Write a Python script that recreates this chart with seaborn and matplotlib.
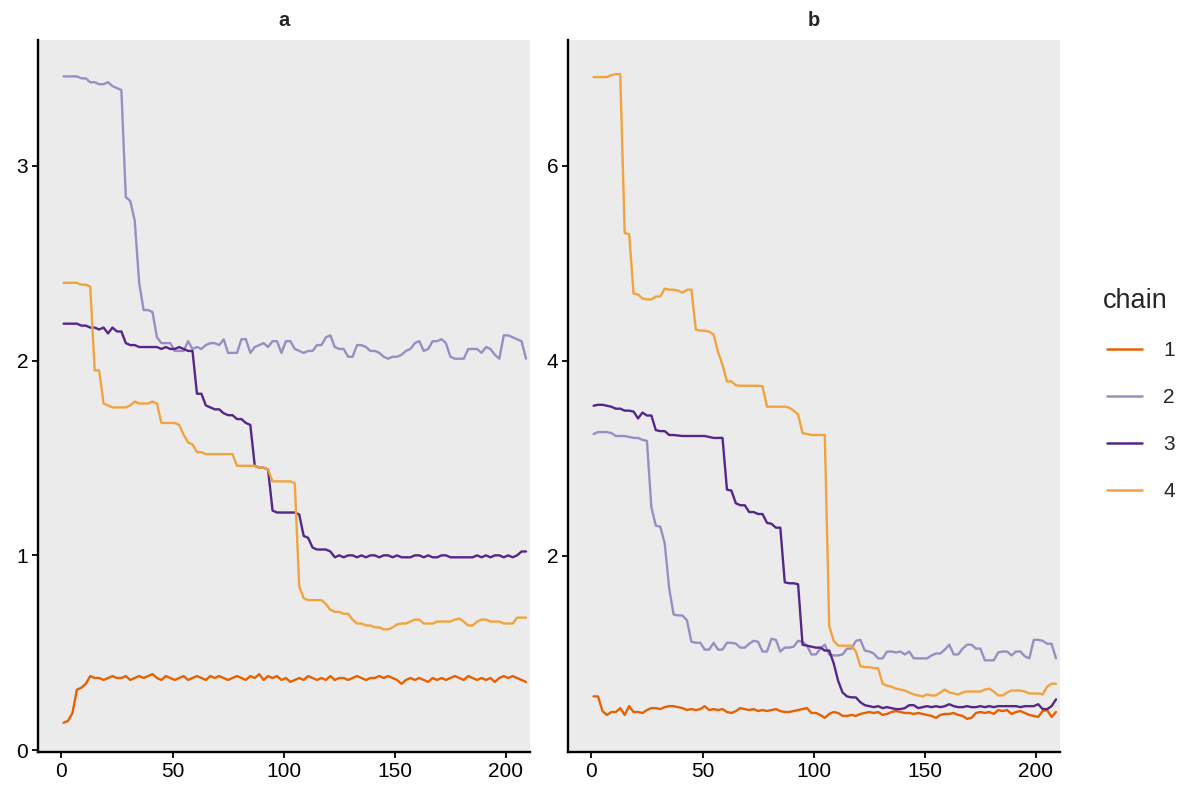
import numpy as np
import pandas as pd
import matplotlib
matplotlib.use("Agg")
import matplotlib.pyplot as plt
import seaborn as sns

# iterations (every second draw)
iterations = list(range(1, 210, 2))
chains = ["1", "2", "3", "4"]
params = ["a", "b"]
chain_colors = ["#e66101", "#998ec3", "#542788", "#f1a340"]

a_chain1 = [0.14, 0.15, 0.19, 0.31, 0.32, 0.34, 0.38, 0.37, 0.37, 0.36,
            0.37, 0.38, 0.37, 0.37, 0.38, 0.36, 0.37, 0.38, 0.37, 0.38,
            0.39, 0.37, 0.36, 0.38, 0.37, 0.36, 0.37, 0.38, 0.36, 0.37,
            0.38, 0.37, 0.36, 0.38, 0.37, 0.38, 0.37, 0.36, 0.37, 0.38,
            0.37, 0.36, 0.38, 0.37, 0.39, 0.36, 0.38, 0.37, 0.38, 0.36,
            0.37, 0.35, 0.36, 0.37, 0.36, 0.38, 0.37, 0.36, 0.37, 0.36,
            0.38, 0.36, 0.37, 0.37, 0.36, 0.37, 0.38, 0.37, 0.36, 0.37,
            0.37, 0.38, 0.37, 0.38, 0.37, 0.36, 0.34, 0.36, 0.37, 0.36,
            0.37, 0.36, 0.35, 0.37, 0.36, 0.37, 0.36, 0.37, 0.38, 0.37,
            0.36, 0.38, 0.37, 0.36, 0.37, 0.36, 0.37, 0.35, 0.37, 0.38,
            0.37, 0.38, 0.37, 0.36, 0.35]
a_chain2 = [3.46, 3.46, 3.46, 3.46, 3.45, 3.45, 3.43, 3.43, 3.42, 3.42,
            3.43, 3.41, 3.40, 3.39, 2.84, 2.82, 2.72, 2.40, 2.26, 2.26,
            2.25, 2.12, 2.09, 2.09, 2.09, 2.05, 2.05, 2.05, 2.10, 2.06,
            2.07, 2.06, 2.08, 2.09, 2.09, 2.08, 2.11, 2.04, 2.04, 2.04,
            2.11, 2.11, 2.04, 2.07, 2.08, 2.09, 2.07, 2.10, 2.10, 2.04,
            2.10, 2.10, 2.06, 2.05, 2.04, 2.05, 2.05, 2.08, 2.08, 2.12,
            2.13, 2.07, 2.06, 2.06, 2.02, 2.02, 2.08, 2.08, 2.07, 2.05,
            2.05, 2.04, 2.02, 2.01, 2.02, 2.02, 2.03, 2.05, 2.06, 2.09,
            2.10, 2.05, 2.06, 2.10, 2.10, 2.11, 2.09, 2.02, 2.01, 2.01,
            2.01, 2.06, 2.06, 2.06, 2.04, 2.07, 2.06, 2.03, 2.01, 2.13,
            2.13, 2.12, 2.11, 2.10, 2.01]
a_chain3 = [2.19, 2.19, 2.19, 2.19, 2.18, 2.18, 2.17, 2.17, 2.16, 2.17,
            2.14, 2.17, 2.15, 2.15, 2.09, 2.08, 2.08, 2.07, 2.07, 2.07,
            2.07, 2.07, 2.06, 2.07, 2.06, 2.06, 2.07, 2.06, 2.05, 2.05,
            1.83, 1.83, 1.77, 1.76, 1.75, 1.75, 1.73, 1.72, 1.72, 1.70,
            1.70, 1.68, 1.67, 1.46, 1.45, 1.45, 1.44, 1.23, 1.22, 1.22,
            1.22, 1.22, 1.22, 1.21, 1.10, 1.09, 1.04, 1.03, 1.03, 1.03,
            1.02, 0.99, 1.00, 0.99, 1.00, 1.00, 0.99, 1.00, 0.99, 1.00,
            1.00, 0.99, 1.00, 1.00, 0.99, 1.00, 0.99, 0.99, 0.99, 1.00,
            1.00, 0.99, 1.00, 0.99, 0.99, 1.00, 1.00, 0.99, 0.99, 0.99,
            0.99, 0.99, 0.99, 1.00, 0.99, 1.00, 0.99, 1.00, 1.00, 0.99,
            1.00, 0.99, 1.00, 1.02, 1.02]
a_chain4 = [2.40, 2.40, 2.40, 2.40, 2.39, 2.39, 2.38, 1.95, 1.95, 1.78,
            1.77, 1.76, 1.76, 1.76, 1.76, 1.77, 1.79, 1.78, 1.78, 1.78,
            1.79, 1.78, 1.68, 1.68, 1.68, 1.68, 1.67, 1.62, 1.58, 1.57,
            1.53, 1.53, 1.52, 1.52, 1.52, 1.52, 1.52, 1.52, 1.52, 1.46,
            1.46, 1.46, 1.46, 1.46, 1.45, 1.45, 1.44, 1.38, 1.38, 1.38,
            1.38, 1.38, 1.37, 0.84, 0.78, 0.77, 0.77, 0.77, 0.77, 0.75,
            0.72, 0.71, 0.71, 0.70, 0.70, 0.67, 0.65, 0.65, 0.64, 0.64,
            0.63, 0.63, 0.62, 0.62, 0.63, 0.645, 0.65, 0.65, 0.66, 0.67,
            0.67, 0.65, 0.65, 0.65, 0.66, 0.66, 0.66, 0.66, 0.67, 0.675,
            0.66, 0.64, 0.64, 0.66, 0.67, 0.67, 0.66, 0.66, 0.66, 0.65,
            0.65, 0.65, 0.68, 0.68, 0.68]

b_chain1 = [0.56, 0.56, 0.41, 0.37, 0.40, 0.40, 0.44, 0.37, 0.46, 0.40,
            0.40, 0.39, 0.42, 0.44, 0.44, 0.43, 0.45, 0.46, 0.46, 0.45,
            0.44, 0.42, 0.43, 0.42, 0.43, 0.46, 0.42, 0.43, 0.42, 0.43,
            0.40, 0.39, 0.41, 0.44, 0.43, 0.42, 0.43, 0.41, 0.42, 0.41,
            0.42, 0.43, 0.41, 0.40, 0.40, 0.41, 0.42, 0.43, 0.44, 0.39,
            0.39, 0.37, 0.34, 0.38, 0.40, 0.39, 0.36, 0.36, 0.37, 0.36,
            0.38, 0.39, 0.40, 0.39, 0.40, 0.37, 0.38, 0.40, 0.41, 0.40,
            0.39, 0.39, 0.38, 0.39, 0.38, 0.37, 0.36, 0.34, 0.37, 0.38,
            0.38, 0.39, 0.37, 0.36, 0.33, 0.34, 0.39, 0.40, 0.39, 0.40,
            0.38, 0.42, 0.41, 0.42, 0.38, 0.40, 0.41, 0.39, 0.37, 0.36,
            0.35, 0.41, 0.42, 0.35, 0.40]
b_chain2 = [3.25, 3.27, 3.27, 3.27, 3.26, 3.23, 3.23, 3.23, 3.22, 3.21,
            3.21, 3.19, 3.18, 2.50, 2.31, 2.30, 2.13, 1.67, 1.40, 1.39,
            1.39, 1.34, 1.12, 1.11, 1.11, 1.04, 1.04, 1.11, 1.04, 1.04,
            1.11, 1.11, 1.10, 1.06, 1.06, 1.10, 1.13, 1.12, 1.02, 1.02,
            1.15, 1.14, 1.02, 1.06, 1.06, 1.07, 1.13, 1.12, 1.08, 0.99,
            0.99, 1.05, 1.09, 0.99, 0.98, 0.98, 0.99, 1.05, 1.05, 1.13,
            1.14, 1.03, 1.02, 1.00, 0.95, 0.95, 1.02, 1.02, 1.01, 1.02,
            0.99, 1.02, 0.95, 0.95, 0.95, 0.95, 0.98, 1.00, 1.00, 1.04,
            1.09, 0.99, 0.99, 1.05, 1.09, 1.09, 1.05, 1.05, 0.93, 0.93,
            0.93, 1.01, 1.02, 1.02, 0.98, 1.02, 1.02, 0.97, 0.95, 1.14,
            1.14, 1.13, 1.10, 1.10, 0.95]
b_chain3 = [3.54, 3.55, 3.55, 3.54, 3.53, 3.51, 3.51, 3.49, 3.49, 3.48,
            3.41, 3.47, 3.44, 3.44, 3.29, 3.28, 3.28, 3.24, 3.24, 3.235,
            3.23, 3.23, 3.23, 3.23, 3.23, 3.23, 3.22, 3.21, 3.21, 3.21,
            2.68, 2.67, 2.54, 2.52, 2.52, 2.45, 2.45, 2.43, 2.43, 2.34,
            2.33, 2.29, 2.29, 1.73, 1.72, 1.72, 1.71, 1.09, 1.08, 1.07,
            1.06, 1.06, 1.03, 1.03, 0.90, 0.72, 0.60, 0.56, 0.55, 0.55,
            0.50, 0.47, 0.46, 0.45, 0.46, 0.44, 0.45, 0.44, 0.43, 0.43,
            0.44, 0.47, 0.47, 0.44, 0.45, 0.46, 0.45, 0.46, 0.45, 0.46,
            0.48, 0.46, 0.45, 0.45, 0.46, 0.45, 0.45, 0.46, 0.45, 0.46,
            0.45, 0.46, 0.46, 0.46, 0.46, 0.46, 0.45, 0.46, 0.46, 0.46,
            0.48, 0.43, 0.43, 0.46, 0.53]
b_chain4 = [6.91, 6.91, 6.91, 6.91, 6.93, 6.94, 6.94, 5.31, 5.30, 4.69,
            4.68, 4.64, 4.63, 4.63, 4.66, 4.66, 4.74, 4.73, 4.73, 4.72,
            4.70, 4.73, 4.73, 4.32, 4.31, 4.31, 4.30, 4.27, 4.09, 3.96,
            3.79, 3.79, 3.75, 3.745, 3.745, 3.745, 3.745, 3.745, 3.74, 3.53,
            3.53, 3.53, 3.53, 3.53, 3.52, 3.49, 3.45, 3.26, 3.25, 3.24,
            3.24, 3.24, 3.24, 1.28, 1.13, 1.08, 1.08, 1.08, 1.08, 1.02,
            0.87, 0.86, 0.86, 0.85, 0.85, 0.69, 0.67, 0.66, 0.64, 0.63,
            0.62, 0.60, 0.58, 0.57, 0.56, 0.58, 0.57, 0.57, 0.60, 0.63,
            0.60, 0.59, 0.58, 0.60, 0.61, 0.61, 0.61, 0.61, 0.63, 0.64,
            0.61, 0.57, 0.57, 0.60, 0.62, 0.62, 0.62, 0.61, 0.59, 0.59,
            0.59, 0.58, 0.66, 0.69, 0.69]

series = {
    "a": [a_chain1, a_chain2, a_chain3, a_chain4],
    "b": [b_chain1, b_chain2, b_chain3, b_chain4],
}
rows = []
for p in params:
    for ch, vals in zip(chains, series[p]):
        for it, v in zip(iterations, vals):
            rows.append({"param": p, "chain": ch, "iteration": it, "value": v})
df = pd.DataFrame(rows)

sns.set_theme(style="ticks")
plt.rcParams["font.family"] = ["Liberation Sans", "DejaVu Sans"]

W, H = 1182, 790
fig = plt.figure(figsize=(W / 100, H / 100), dpi=100)
panels = {"a": (38, 530), "b": (568, 1060)}
top_px, bot_px = 40, 752
ylims = {"a": (-0.01, 3.647), "b": (-0.01, 7.29)}
yticks = {"a": [0, 1, 2, 3], "b": [2, 4, 6]}
palette = dict(zip(chains, chain_colors))

axes = {}
for p in params:
    l, r = panels[p]
    ax = fig.add_axes([l / W, (H - bot_px) / H, (r - l) / W, (bot_px - top_px) / H])
    sub = df[df["param"] == p]
    sns.lineplot(data=sub, x="iteration", y="value", hue="chain", palette=palette,
                 hue_order=chains, linewidth=1.7, ax=ax, legend=(p == "b"),
                 estimator=None, sort=True)
    ax.set_facecolor("#EBEBEB")
    ax.set_xlim(-10.5, 210.8)
    ax.set_ylim(*ylims[p])
    ax.set_xticks([0, 50, 100, 150, 200])
    ax.set_yticks(yticks[p])
    ax.set_xlabel("")
    ax.set_ylabel("")
    ax.set_title(p, fontsize=14.5, fontweight="bold", pad=10)
    for s in ["top", "right"]:
        ax.spines[s].set_visible(False)
    for s in ["left", "bottom"]:
        ax.spines[s].set_color("black")
        ax.spines[s].set_linewidth(1.7)
    ax.tick_params(axis="both", colors="black", labelsize=15, length=4.5, width=1.3,
                   labelcolor="black", pad=2.5)
    axes[p] = ax

axb = axes["b"]
handles, labels = axb.get_legend_handles_labels()
axb.get_legend().remove()
leg = fig.legend(handles, labels, loc="center left",
                 bbox_to_anchor=(1107 / W, 1 - 421 / H), frameon=False, fontsize=15,
                 handlelength=1.7, labelspacing=1.34, handletextpad=1.0,
                 borderaxespad=0, borderpad=0)
for line in leg.get_lines():
    line.set_linewidth(1.8)
fig.text(1103 / W, 1 - 301 / H, "chain", fontsize=19.5, ha="left", va="center")

fig.savefig("out.png", dpi=100)
